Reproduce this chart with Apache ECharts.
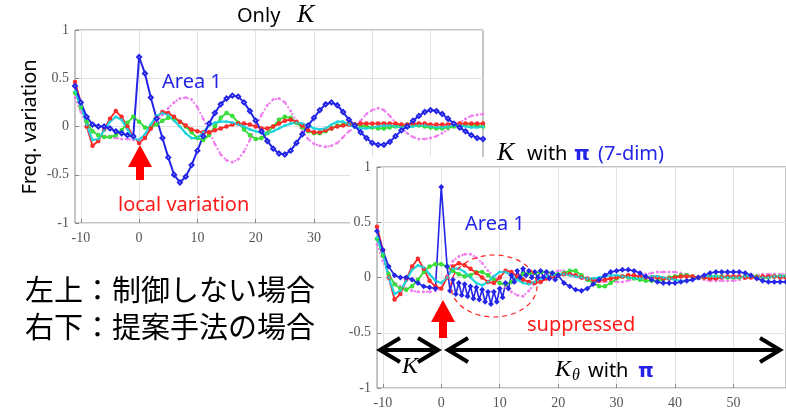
<!DOCTYPE html>
<html>
<head>
<meta charset="utf-8">
<script src="https://cdn.jsdelivr.net/npm/echarts@6/dist/echarts.min.js"></script>
<style>
    html, body { margin: 0; padding: 0; background: #fff; }
    #chart { width: 786px; height: 414px; }
</style>
</head>
<body>
<div id="chart"></div>
<script>
// sample positions (shared by both panels)
const xs = [-11, -10, -9, -8, -7, -6, -5, -4, -3, -2, -1, 0, 1, 2, 3, 4, 5, 6, 7, 8, 9, 10,
    11, 12, 13, 14, 15, 16, 17, 18, 19, 20, 21, 22, 23, 24, 25, 26, 27, 28, 29, 30,
    31, 32, 33, 34, 35, 36, 37, 38, 39, 40, 41, 42, 43, 44, 45, 46, 47, 48, 49, 50,
    51, 52, 53, 54, 55, 56, 57, 58, 59];
const xTicks = [-10, 0, 10, 20, 30, 40, 50];

// upper-left panel: "Only K"
const topBlue = [0.42, 0.25, 0.10, 0.02, 0.00, 0.00, -0.02, -0.05, -0.07, -0.09, -0.10,
    0.72, 0.55, 0.30, 0.08, -0.12, -0.32, -0.50, -0.58, -0.52, -0.40, -0.25,
    -0.10, 0.03, 0.14, 0.23, 0.29, 0.32, 0.31, 0.25, 0.16, 0.06,
    -0.05, -0.15, -0.23, -0.28, -0.29, -0.25, -0.17, -0.08, 0.01, 0.09,
    0.17, 0.23, 0.25, 0.22, 0.15, 0.07, 0.01, -0.06, -0.12, -0.17,
    -0.19, -0.19, -0.16, -0.10, -0.04, 0.00, 0.06, 0.11, 0.15, 0.17,
    0.16, 0.13, 0.08, 0.03, -0.01, -0.05, -0.09, -0.12, -0.13];
const topMagenta = [0.30, 0.15, 0.02, -0.05, -0.08, -0.10, -0.11, -0.12, -0.13, -0.13, -0.14,
    -0.14, -0.10, -0.03, 0.05, 0.12, 0.19, 0.25, 0.29, 0.30, 0.28, 0.20,
    0.08, -0.05, -0.18, -0.29, -0.35, -0.37, -0.34, -0.26, -0.14, 0.00,
    0.12, 0.22, 0.28, 0.29, 0.25, 0.16, 0.05, -0.05, -0.13, -0.18,
    -0.20, -0.21, -0.20, -0.17, -0.11, -0.05, -0.01, 0.06, 0.13, 0.17,
    0.19, 0.17, 0.11, 0.04, -0.02, -0.07, -0.11, -0.13, -0.13, -0.12,
    -0.10, -0.07, -0.03, 0.00, 0.04, 0.08, 0.11, 0.12, 0.13];
const topGreen = [0.35, 0.20, 0.05, -0.05, -0.09, -0.11, -0.11, -0.09, -0.04, 0.04, 0.10,
    0.05, -0.01, -0.01, 0.02, 0.06, 0.09, 0.08, 0.05, 0.00, -0.06, -0.12,
    -0.14, -0.09, 0.00, 0.09, 0.14, 0.11, 0.04, -0.03, -0.09, -0.13,
    -0.12, -0.07, 0.00, 0.07, 0.10, 0.09, 0.04, -0.01, -0.05, -0.07,
    -0.07, -0.05, -0.02, 0.01, 0.02, 0.03, 0.02, 0.01, 0.00, -0.01,
    -0.02, -0.02, -0.01, 0.00, 0.01, 0.02, 0.02, 0.01, 0.00, -0.01,
    -0.02, -0.02, -0.01, 0.00, 0.01, 0.02, 0.02, 0.01, 0.00];
const topRed = [0.46, 0.25, 0.00, -0.20, -0.15, -0.03, 0.08, 0.16, 0.10, 0.00, -0.10,
    -0.17, -0.12, -0.02, 0.09, 0.15, 0.14, 0.10, 0.05, 0.01, -0.03, -0.05,
    -0.06, -0.06, -0.04, -0.02, 0.00, 0.02, 0.03, 0.03, 0.02, 0.00,
    -0.02, -0.02, 0.00, 0.03, 0.06, 0.07, 0.05, 0.01, -0.04, -0.06,
    -0.06, -0.04, -0.02, 0.00, 0.01, 0.02, 0.02, 0.03, 0.03, 0.03,
    0.03, 0.03, 0.03, 0.03, 0.02, 0.02, 0.03, 0.03, 0.03, 0.02,
    0.02, 0.02, 0.02, 0.03, 0.03, 0.03, 0.03, 0.03, 0.03];
const topCyan = [0.36, 0.22, 0.02, -0.14, -0.13, -0.04, 0.05, 0.10, 0.07, -0.03, -0.12,
    -0.14, -0.08, 0.02, 0.11, 0.14, 0.12, 0.06, 0.00, -0.07, -0.12, -0.12,
    -0.06, 0.01, 0.04, 0.05, 0.05, 0.04, 0.02, 0.00, -0.03, -0.05,
    -0.07, -0.07, -0.05, -0.02, 0.01, 0.03, 0.04, 0.03, 0.01, -0.02,
    -0.03, -0.02, 0.02, 0.05, 0.05, 0.02, -0.01, -0.02, -0.02, -0.01,
    0.00, 0.01, 0.01, 0.00, -0.01, -0.01, 0.00, 0.01, 0.01, 0.00,
    -0.01, -0.01, 0.00, 0.01, 0.01, 0.00, -0.01, -0.01, 0.00];

// lower-right panel: "K with pi (7-dim)"
const botBlueX = [-11, -10, -9, -8, -7, -6, -5, -4, -3, -2, -1, 0,
    1, 1.5, 2, 2.5, 3, 3.5, 4, 4.5, 5, 5.5, 6, 6.5, 7, 7.5, 8, 8.5, 9, 9.5, 10,
    10.5, 11, 11.5, 12, 12.5, 13, 13.5, 14, 14.5, 15, 15.5, 16, 16.5, 17, 17.5, 18,
    18.5, 19, 19.5, 20,
    21, 22, 23, 24, 25, 26, 27, 28, 29, 30, 31, 32, 33, 34, 35, 36, 37, 38, 39, 40,
    41, 42, 43, 44, 45, 46, 47, 48, 49, 50, 51, 52, 53, 54, 55, 56, 57, 58, 59];
const botBlue = [0.42, 0.25, 0.10, 0.02, 0.00, 0.00, -0.02, -0.05, -0.08, -0.09, -0.10, 0.82,
    0.10, -0.12, -0.02, -0.15, -0.05, -0.16, -0.06, -0.17, -0.08, -0.19, -0.09, -0.20,
    -0.11, -0.22, -0.13, -0.24, -0.13, -0.22, -0.10, -0.18, -0.05, -0.10, 0.02, -0.04,
    0.06, 0.00, 0.08, 0.02, 0.06, 0.00, 0.05, 0.00, 0.06, 0.00, 0.05, -0.01, 0.04, -0.02, 0.02,
    -0.05, -0.08, -0.11, -0.12, -0.10, -0.06, -0.02, 0.02, 0.05, 0.06,
    0.07, 0.07, 0.06, 0.04, 0.01, -0.02, -0.04, -0.05, -0.05, -0.05,
    -0.04, -0.03, -0.02, 0.00, 0.02, 0.04, 0.05, 0.05, 0.05, 0.05,
    0.05, 0.04, 0.02, -0.01, -0.03, -0.04, -0.04, -0.04, -0.04];
const botRed = [0.46, 0.25, 0.00, -0.20, -0.15, -0.02, 0.10, 0.17, 0.08, -0.03, -0.08,
    -0.10, 0.00, 0.10, 0.13, 0.11, 0.08, 0.04, 0.00, -0.04, -0.05, 0.00,
    0.06, 0.05, 0.01, -0.02, -0.04, -0.05, -0.04, -0.01, 0.01, 0.02,
    0.03, 0.03, 0.02, 0.00, -0.01, -0.02, -0.03, -0.02, -0.01, 0.00,
    0.01, 0.02, 0.02, 0.01, 0.00, 0.00, 0.00, -0.01, -0.01, 0.00,
    0.01, 0.01, 0.01, 0.00, 0.00, -0.01, -0.01, 0.00, 0.01, 0.01,
    0.01, 0.00, 0.00, 0.00, 0.01, 0.01, 0.01, 0.00, 0.00];
const botGreen = [0.35, 0.20, 0.03, -0.06, -0.10, -0.11, -0.08, -0.02, 0.05, 0.10, 0.12,
    0.12, 0.10, 0.06, 0.03, 0.01, 0.02, 0.05, 0.05, 0.02, -0.02, -0.05,
    -0.06, -0.04, 0.00, 0.03, 0.04, 0.04, 0.05, 0.05, 0.04, 0.03,
    0.04, 0.06, 0.06, 0.02, -0.02, -0.05, -0.08, -0.08, -0.05, -0.01,
    0.01, 0.00, -0.01, -0.02, -0.03, -0.03, -0.03, -0.02, 0.00, 0.01,
    0.02, 0.02, 0.01, 0.00, 0.00, 0.01, 0.01, 0.01, 0.00, 0.00,
    0.00, 0.01, 0.01, 0.01, 0.00, 0.00, 0.01, 0.01, 0.01];
const botCyan = [0.36, 0.22, 0.00, -0.15, -0.12, -0.03, 0.07, 0.11, 0.09, 0.03, -0.03,
    -0.05, 0.00, 0.08, 0.08, 0.05, 0.00, -0.05, -0.07, -0.04, 0.01, 0.05,
    0.05, 0.02, -0.02, -0.05, -0.06, -0.04, -0.01, 0.01, 0.02, 0.03,
    0.03, 0.02, 0.01, 0.00, -0.01, -0.01, 0.00, 0.01, 0.02, 0.02,
    0.01, 0.00, -0.01, -0.01, 0.00, 0.01, 0.01, 0.00, -0.01, -0.02,
    -0.03, -0.03, -0.02, 0.00, 0.01, 0.01, 0.01, 0.00, 0.00, 0.00,
    0.00, 0.01, 0.01, 0.00, 0.00, 0.00, 0.01, 0.01, 0.01];
const botMagenta = [0.30, 0.15, 0.02, -0.05, -0.08, -0.10, -0.12, -0.13, -0.13, -0.13, -0.12,
    -0.10, 0.02, 0.15, 0.19, 0.21, 0.21, 0.18, 0.13, 0.06, 0.01, -0.04,
    -0.09, -0.13, -0.16, -0.17, -0.12, -0.05, 0.00, 0.03, 0.05, 0.06,
    0.06, 0.04, 0.01, -0.01, -0.02, -0.03, -0.04, -0.04, -0.03, -0.04,
    -0.04, -0.03, -0.01, 0.01, 0.03, 0.04, 0.05, 0.05, 0.05, 0.05,
    0.04, 0.03, 0.01, -0.01, -0.02, -0.03, -0.03, -0.03, -0.03, -0.03,
    -0.02, -0.01, 0.00, 0.02, 0.03, 0.03, 0.03, 0.03, 0.03];

const BLUE = "#2424e8";
const MAGENTA = "#f07af0";
const GREEN = "#33dd33";
const RED = "#ff2626";
const CYAN = "#1fd4dd";

const pairs = (xArr, yArr) => xArr.map((x, i) => [x, yArr[i]]);

function trace(xArr, yArr, color, grid, opts) {
    return Object.assign({
        type: "line",
        xAxisIndex: grid,
        yAxisIndex: grid,
        z: grid === 0 ? 2 : 6,
        silent: true,
        symbol: "emptyCircle",
        symbolSize: 2.5,
        lineStyle: { color: color, width: 1.8 },
        itemStyle: { color: color, borderColor: color, borderWidth: 1 },
        data: pairs(xArr, yArr),
    }, opts || {});
}

const blueOpts = { symbol: "emptyDiamond", symbolSize: 4, lineStyle: { color: BLUE, width: 2 } };
const magOpts = { symbol: "circle", symbolSize: 2, lineStyle: { color: MAGENTA, width: 2, type: "dotted" } };
const cyanOpts = { symbol: "circle", symbolSize: 2, lineStyle: { color: CYAN, width: 2.2 } };

function xAxis(grid, z) {
    return {
        type: "value",
        gridIndex: grid,
        min: -11,
        max: 59,
        z: z,
        axisLine: { show: false, onZero: false },
        axisTick: { inside: true, length: 4, customValues: xTicks, lineStyle: { color: "#888" } },
        axisLabel: {
            customValues: xTicks, margin: 8,
            fontFamily: "Liberation Serif", fontSize: 14, color: "#555",
        },
        splitLine: { show: true, lineStyle: { color: "#e2e2e2" } },
    };
}

function yAxis(grid, z) {
    return {
        type: "value",
        gridIndex: grid,
        min: -1,
        max: 1,
        interval: 0.5,
        z: z,
        axisLine: { show: false, onZero: false },
        axisTick: { inside: true, length: 4, lineStyle: { color: "#888" } },
        axisLabel: { margin: 6, fontFamily: "Liberation Serif", fontSize: 14, color: "#555" },
        splitLine: { show: true, lineStyle: { color: "#e2e2e2" } },
    };
}

const sans = "\"Noto Sans\"";
const txt = (text, x, y, size, color, extra) => Object.assign({
    type: "text", x: x, y: y, z: 10, silent: true,
    style: {
        text: text, fill: color, fontSize: size, fontFamily: sans,
        textAlign: "left", textVerticalAlign: "middle",
    },
}, extra || {});
const italicK = (x, y, size) => ({
    type: "text", x: x, y: y, z: 10, silent: true,
    style: {
        text: "K", fill: "#000", fontSize: size, fontStyle: "italic",
        fontFamily: "Liberation Serif", textAlign: "left", textVerticalAlign: "middle",
    },
});
const piText = (x, y) => ({
    type: "text", x: x, y: y, z: 10, silent: true,
    style: {
        text: "π", fill: BLUE, fontSize: 20, fontWeight: "bold",
        fontFamily: "DejaVu Sans", textAlign: "left", textVerticalAlign: "middle",
    },
});
const jpText = (text, x, y) => ({
    type: "text", x: x, y: y, z: 10, silent: true,
    style: {
        text: text, fill: "#000", fontSize: 29,
        fontFamily: "\"Noto Sans CJK JP\"", textAlign: "left", textVerticalAlign: "middle",
    },
});
const upArrow = (cx, tip, base, bottom) => ({
    type: "polygon", z: 10, silent: true,
    shape: { points: [[cx, tip], [cx + 12, base], [cx + 4, base], [cx + 4, bottom], [cx - 4, bottom], [cx - 4, base], [cx - 12, base]] },
    style: { fill: "#ff0000" },
});
const blackStroke = { stroke: "#000", lineWidth: 4, fill: null, lineJoin: "miter" };
const dblArrow = (x1, x2, y) => [
    { type: "line", z: 10, silent: true, shape: { x1: x1 + 2, y1: y, x2: x2 - 2, y2: y }, style: blackStroke },
    { type: "polyline", z: 10, silent: true, shape: { points: [[x1 + 21, y - 12], [x1 + 1, y], [x1 + 21, y + 12]] }, style: blackStroke },
    { type: "polyline", z: 10, silent: true, shape: { points: [[x2 - 21, y - 12], [x2 - 1, y], [x2 - 21, y + 12]] }, style: blackStroke },
];

const option = {
    animation: false,
    backgroundColor: "#fff",
    grid: [
        { left: 75, top: 30, width: 408, height: 193, show: true, borderColor: "#8a8a8a", borderWidth: 1 },
        { left: 377, top: 167, width: 410, height: 221, show: true, z: 4, backgroundColor: "#fff", borderColor: "#8a8a8a", borderWidth: 1 },
    ],
    xAxis: [xAxis(0, 0), xAxis(1, 5)],
    yAxis: [yAxis(0, 0), yAxis(1, 5)],
    series: [
        trace(xs, topMagenta, MAGENTA, 0, magOpts),
        trace(xs, topGreen, GREEN, 0),
        trace(xs, topRed, RED, 0),
        trace(xs, topCyan, CYAN, 0, cyanOpts),
        trace(xs, topBlue, BLUE, 0, blueOpts),
        trace(xs, botMagenta, MAGENTA, 1, magOpts),
        trace(xs, botGreen, GREEN, 1),
        trace(xs, botRed, RED, 1),
        trace(xs, botCyan, CYAN, 1, cyanOpts),
        trace(botBlueX, botBlue, BLUE, 1, { symbol: "emptyDiamond", symbolSize: 3, lineStyle: { color: BLUE, width: 1.6 } }),
    ],
    graphic: [
        // the lower panel sits on top of the upper one
        { type: "rect", z: 3, silent: true, shape: { x: 350, y: 157, width: 436, height: 257 }, style: { fill: "#fff" } },

        txt("Only", 237, 16, 20, "#000"),
        italicK(297, 15, 26),
        txt("Freq. variation", 30, 127, 20, "#000", {
            rotation: Math.PI / 2,
            style: { text: "Freq. variation", fill: "#000", fontSize: 20, fontFamily: sans, textAlign: "center", textVerticalAlign: "middle" },
        }),
        txt("Area 1", 162, 82, 20, BLUE),
        upArrow(140, 145, 167, 180),
        txt("local variation", 118, 205, 20, "#ff1a1a"),

        italicK(497, 153, 26),
        txt("with", 527, 154, 20, "#000"),
        piText(574, 155),
        txt("(7-dim)", 598, 154, 20, BLUE),
        txt("Area 1", 465, 224, 20, BLUE),
        {
            type: "ellipse", z: 10, silent: true,
            shape: { cx: 494, cy: 286, rx: 43, ry: 31 },
            style: { fill: null, stroke: "#ff2020", lineWidth: 1.2, lineDash: [5, 4] },
        },
        txt("suppressed", 527, 325, 20, "#ff1a1a"),
        upArrow(443, 300, 322, 338),
        ...dblArrow(379, 439, 350),
        ...dblArrow(447, 781, 350),
        italicK(402, 367, 24),
        italicK(555, 370, 24),
        {
            type: "text", x: 572, y: 376, z: 10, silent: true,
            style: { text: "θ", fill: "#000", fontSize: 16, fontStyle: "italic", fontFamily: "Liberation Serif", textVerticalAlign: "middle" },
        },
        txt("with", 588, 371, 20, "#000"),
        piText(638, 372),

        jpText("左上：制御しない場合", 25, 290),
        jpText("右下：提案手法の場合", 25, 327),
    ],
};

const chart = echarts.init(document.getElementById("chart"));
chart.setOption(option);
</script>
</body>
</html>
